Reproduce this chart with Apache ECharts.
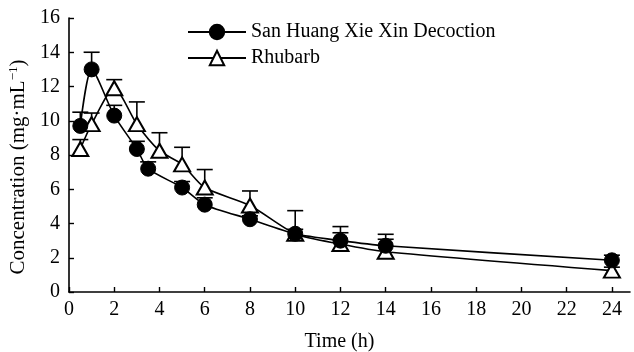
<!DOCTYPE html>
<html>
<head>
<meta charset="utf-8">
<script src="https://cdn.jsdelivr.net/npm/echarts@6/dist/echarts.min.js"></script>
<style>
  html, body { margin: 0; padding: 0; background: #fff; }
  #chart { width: 634px; height: 352px; }
</style>
</head>
<body>
<div id="chart"></div>
<script>
// sampling times (h)
const timesShxxd = [0.5, 1, 2, 3, 3.5, 5, 6, 8, 10, 12, 14, 24];
const timesRhubarb = [0.5, 1, 2, 3, 4, 5, 6, 8, 10, 12, 14, 24];

// mean concentration and top of error bar (mean + SD)
const shxxd = [9.7, 13.0, 10.3, 8.35, 7.2, 6.1, 5.1, 4.25, 3.4, 3.0, 2.7, 1.85];
const shxxdTop = [10.5, 14.0, 10.9, 8.8, 7.6, 6.45, 5.5, 4.45, 4.75, 3.82, 3.37, 2.15];
const rhubarb = [8.35, 9.8, 11.9, 9.8, 8.25, 7.45, 6.1, 5.05, 3.4, 2.8, 2.35, 1.25];
const rhubarbTop = [8.9, 10.45, 12.4, 11.1, 9.3, 8.45, 7.15, 5.9, 3.66, 3.46, 3.08, 1.45];

const xTicks = [0, 2, 4, 6, 8, 10, 12, 14, 16, 18, 20, 22, 24];

const font = 'Liberation Serif';

function pairs(xs, ys) {
  return xs.map((x, i) => [x, ys[i]]);
}
function errData(xs, ys, tops) {
  return xs.map((x, i) => [x, ys[i], tops[i]]);
}

function renderError(params, api) {
  const base = api.coord([api.value(0), api.value(1)]);
  const top = api.coord([api.value(0), api.value(2)]);
  const half = 8;
  const style = { stroke: '#000', lineWidth: 1.6 };
  return {
    type: 'group',
    children: [
      { type: 'line', shape: { x1: base[0], y1: base[1], x2: top[0], y2: top[1] }, style: style },
      { type: 'line', shape: { x1: top[0] - half, y1: top[1], x2: top[0] + half, y2: top[1] }, style: style }
    ]
  };
}

const chart = echarts.init(document.getElementById('chart'));

const option = {
  animation: false,
  backgroundColor: '#fff',
  textStyle: { fontFamily: font, color: '#000' },
  grid: { left: 69, right: 4, top: 18, bottom: 60, outerBoundsMode: 'none', containLabel: false },
  legend: {
    orient: 'vertical',
    left: 182,
    top: 17,
    itemWidth: 58,
    itemHeight: 18,
    itemGap: 6,
    textStyle: { fontFamily: font, fontSize: 20, color: '#000' },
    data: ['San Huang Xie Xin Decoction', 'Rhubarb']
  },
  xAxis: {
    type: 'value',
    min: 0,
    max: 24.8,
    name: 'Time (h)',
    nameLocation: 'middle',
    nameGap: 40,
    nameTextStyle: { fontFamily: font, fontSize: 20, color: '#000', padding: [0, 20, 0, 0] },
    splitLine: { show: false },
    axisLine: { lineStyle: { color: '#000', width: 1.6 } },
    axisTick: { inside: true, length: 5, customValues: xTicks, lineStyle: { color: '#000', width: 1.4 } },
    axisLabel: { customValues: xTicks, margin: 8, fontFamily: font, fontSize: 20, color: '#000' }
  },
  yAxis: {
    type: 'value',
    min: 0,
    max: 16,
    interval: 2,
    name: '{a|Concentration (mg·mL}{s|−1}{a|)}',
    nameLocation: 'middle',
    nameGap: 36,
    nameTextStyle: {
      padding: [0, 24, 0, 0],
      rich: {
        a: { fontFamily: font, fontSize: 21, color: '#000', lineHeight: 24 },
        s: { fontFamily: font, fontSize: 13, color: '#000', verticalAlign: 'top', lineHeight: 24 }
      }
    },
    splitLine: { show: false },
    axisLine: { show: true, lineStyle: { color: '#000', width: 1.6 } },
    axisTick: { show: true, inside: true, length: 5, lineStyle: { color: '#000', width: 1.4 } },
    axisLabel: { margin: 9, fontFamily: font, fontSize: 20, color: '#000' }
  },
  series: [
    {
      name: 'rhubarb-err',
      type: 'custom',
      renderItem: renderError,
      data: errData(timesRhubarb, rhubarb, rhubarbTop),
      encode: { x: 0, y: [1, 2] },
      z: 1,
      silent: true
    },
    {
      name: 'shxxd-err',
      type: 'custom',
      renderItem: renderError,
      data: errData(timesShxxd, shxxd, shxxdTop),
      encode: { x: 0, y: [1, 2] },
      z: 1,
      silent: true
    },
    {
      name: 'Rhubarb',
      type: 'line',
      data: pairs(timesRhubarb, rhubarb),
      smooth: 0.25,
      symbol: 'triangle',
      symbolSize: [16, 14],
      showAllSymbol: true,
      lineStyle: { color: '#000', width: 1.6 },
      itemStyle: { color: '#fff', borderColor: '#000', borderWidth: 2 },
      z: 3
    },
    {
      name: 'San Huang Xie Xin Decoction',
      type: 'line',
      data: pairs(timesShxxd, shxxd),
      smooth: 0.25,
      symbol: 'circle',
      symbolSize: 15,
      showAllSymbol: true,
      lineStyle: { color: '#000', width: 1.6 },
      itemStyle: { color: '#000', borderColor: '#000', borderWidth: 1 },
      z: 4
    }
  ]
};

chart.setOption(option);
</script>
</body>
</html>
